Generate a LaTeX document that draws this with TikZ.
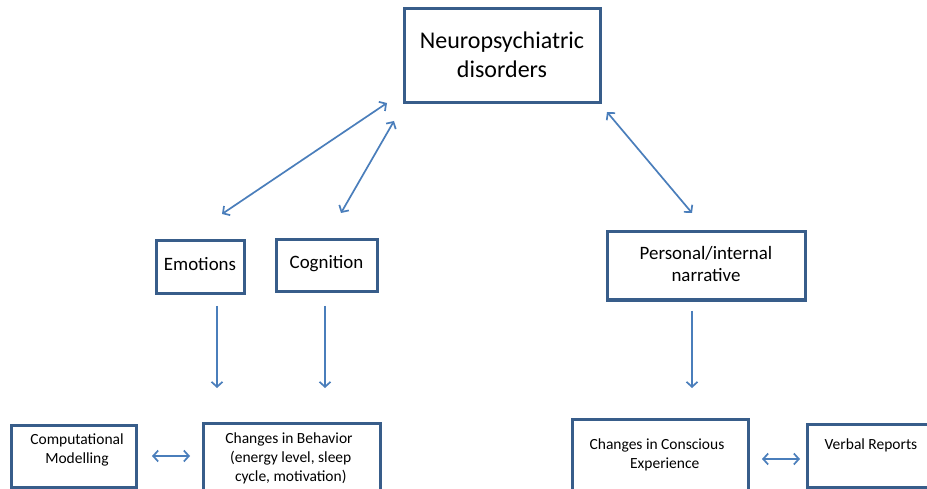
\documentclass[tikz,border=0pt]{standalone}
\usepackage{fontspec}
\setmainfont{Carlito}
\usetikzlibrary{arrows.meta,calc}
\definecolor{boxblue}{HTML}{385D8A}
\definecolor{arrblue}{HTML}{4A7EBB}
\begin{document}
\begin{tikzpicture}[x=1bp,y=-1bp,
  box/.style={draw=boxblue,line width=3bp,fill=white,rectangle,inner sep=0pt},
  big/.style={align=center,font=\fontsize{24bp}{28.5bp}\selectfont},
  mid/.style={align=center,font=\fontsize{18.9bp}{22.5bp}\selectfont},
  small/.style={align=center,font=\fontsize{15.5bp}{19bp}\selectfont},
  link/.style={draw=arrblue,line width=1.7bp},
  dbl/.style={link,{Straight Barb[length=5bp,width=11bp]}-{Straight Barb[length=5bp,width=11bp]}},
  sgl/.style={link,-{Straight Barb[length=5bp,width=11bp]}}]
\useasboundingbox (0,0) rectangle (927,489);
\clip (0,0) rectangle (927,489);
\fill[white] (0,0) rectangle (927,489);
% boxes
\node[box,minimum width=196bp,minimum height=94bp] (neuro) at (502,56) {};
\node[big] (neuro-t) at (502,55) {Neuropsychiatric\\disorders};
\node[box,minimum width=88bp,minimum height=53bp] (emo) at (200,267.5) {};
\node[mid] (emo-t) at (200,264) {Emotions};
\node[box,minimum width=101bp,minimum height=52bp] (cog) at (326.5,266) {};
\node[mid] (cog-t) at (326.5,264) {Cognition};
\node[box,minimum width=198bp,minimum height=68bp] (pers) at (706,266) {};
\node[mid] (pers-t) at (706,264) {Personal/internal\\narrative};
\node[box,minimum width=124bp,minimum height=62bp] (comp) at (74,456) {};
\node[small] (comp-t) at (77,450) {Computational\\Modelling};
\node[box,minimum width=177bp,minimum height=70bp] (beh) at (291.5,458) {};
\node[small] (beh-t) at (289,458) {Changes in Behavior\\\ (energy level, sleep\\\ cycle, motivation)};
\node[box,minimum width=176bp,minimum height=76bp] (cons) at (660,457) {};
\node[small] (cons-t) at (657,454.5) {Changes in Conscious\\\quad Experience};
\node[box,minimum width=126bp,minimum height=63bp] (verb) at (870,455.5) {};
\node[small] (verb-t) at (871,445) {Verbal Reports};
% connector end points
\coordinate (a1) at (387,103); \coordinate (a2) at (222,214);
\coordinate (b1) at (394,121); \coordinate (b2) at (341,213);
\coordinate (c1) at (607,112); \coordinate (c2) at (692,213);
\coordinate (d1) at (217,306); \coordinate (d2) at (217,388);
\coordinate (e1) at (325,306); \coordinate (e2) at (325,388);
\coordinate (f1) at (692,311); \coordinate (f2) at (692,388);
\coordinate (g1) at (152,456); \coordinate (g2) at (190,456);
\coordinate (h1) at (762,459); \coordinate (h2) at (800,459);
\draw[dbl] (a1) -- (a2);
\draw[dbl] (b1) -- (b2);
\draw[dbl] (c1) -- (c2);
\draw[sgl] (d1) -- (d2);
\draw[sgl] (e1) -- (e2);
\draw[sgl] (f1) -- (f2);
\draw[dbl] (g1) -- (g2);
\draw[dbl] (h1) -- (h2);
\end{tikzpicture}
\end{document}
